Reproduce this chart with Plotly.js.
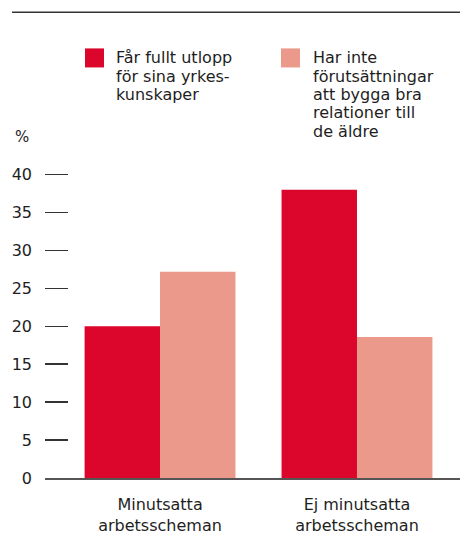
<!DOCTYPE html>
<html>
<head>
<meta charset="utf-8">
<script src="https://cdn.plot.ly/plotly-3.0.1.min.js"></script>
<style>html,body{margin:0;padding:0;background:#fff;}#chart{width:460px;height:547px;}</style>
</head>
<body>
<div id="chart"></div>
<script>
// ---- data ----
const categories = ["Minutsatta<br>arbetsscheman", "Ej minutsatta<br>arbetsscheman"];
const seriesNames = ["Får fullt utlopp för sina yrkes-kunskaper", "Har inte förutsättningar att bygga bra relationer till de äldre"];
const legendLines1 = ["Får fullt utlopp", "för sina yrkes-", "kunskaper"];
const legendLines2 = ["Har inte", "förutsättningar", "att bygga bra", "relationer till", "de äldre"];
const valuesFullt = [20, 38];
const valuesInte = [27.2, 18.6];
const yTickVals = [0, 5, 10, 15, 20, 25, 30, 35, 40];
const yTickText = ["0", "5", "10", "15", "20", "25", "30", "35", "40"];
const yUnit = "%";

// ---- styling / layout ----
const W = 460, H = 547;
const L = 45, R = 0, B = 69;
const unitPx = 303 / 40;                 // pixels per y unit
const yMax = 41;
const T = H - B - unitPx * yMax;
const pw = W - L - R, ph = H - T - B;
const px = x => (x - L) / pw;          // pixel x -> paper
const py = y => (H - B - y) / ph;      // pixel y -> paper
const red = '#dc062d', pink = '#ea998a';
const textColor = '#1e1e1e';
const font = 'DejaVu Sans';

const traces = [
  {type: 'bar', x: categories, y: valuesFullt, name: seriesNames[0], marker: {color: red}, hoverinfo: 'y'},
  {type: 'bar', x: categories, y: valuesInte, name: seriesNames[1], marker: {color: pink}, hoverinfo: 'y'}
];

const annotations = [];
const lineStep = 18.3;
legendLines1.forEach((t, i) => annotations.push({
  xref: 'paper', yref: 'paper', x: px(114), y: py(58.5 + i * lineStep),
  xanchor: 'left', yanchor: 'middle', showarrow: false, text: t,
  font: {family: font, size: 16, color: textColor}
}));
legendLines2.forEach((t, i) => annotations.push({
  xref: 'paper', yref: 'paper', x: px(311), y: py(58.5 + i * lineStep),
  xanchor: 'left', yanchor: 'middle', showarrow: false, text: t,
  font: {family: font, size: 16, color: textColor}
}));
annotations.push({
  xref: 'paper', yref: 'paper', x: px(31), y: py(137),
  xanchor: 'right', yanchor: 'middle', showarrow: false, text: yUnit,
  font: {family: font, size: 15, color: textColor}
});

const shapes = [
  {type: 'line', xref: 'paper', yref: 'paper', x0: px(12), x1: px(460), y0: py(13), y1: py(13),
   line: {color: '#333', width: 1.5}},
  {type: 'rect', xref: 'paper', yref: 'paper', x0: px(85), x1: px(104), y0: py(49), y1: py(68),
   line: {width: 0}, fillcolor: red},
  {type: 'rect', xref: 'paper', yref: 'paper', x0: px(281), x1: px(300), y0: py(49), y1: py(68),
   line: {width: 0}, fillcolor: pink}
];

const layout = {
  width: W, height: H,
  margin: {l: L, r: R, t: T, b: B, pad: 0},
  paper_bgcolor: '#fff', plot_bgcolor: '#fff',
  showlegend: false,
  barmode: 'group', bargap: 0.234, bargroupgap: 0,
  font: {family: font, size: 16, color: textColor},
  xaxis: {
    type: 'category', range: [-0.584, 1.523],
    showline: true, linecolor: '#555', linewidth: 2,
    ticks: '', showgrid: false, zeroline: false,
    tickfont: {family: font, size: 16, color: textColor},
    ticklabelstandoff: 11
  },
  yaxis: {
    range: [0, yMax], tickvals: yTickVals, ticktext: yTickText,
    ticks: 'inside', ticklen: 23, tickwidth: 1.5, tickcolor: '#333',
    showgrid: false, zeroline: false, showline: false,
    tickfont: {family: font, size: 16, color: textColor},
    ticklabelstandoff: 12
  },
  annotations: annotations,
  shapes: shapes
};

Plotly.newPlot('chart', traces, layout, {displayModeBar: false, staticPlot: true});
</script>
</body>
</html>
